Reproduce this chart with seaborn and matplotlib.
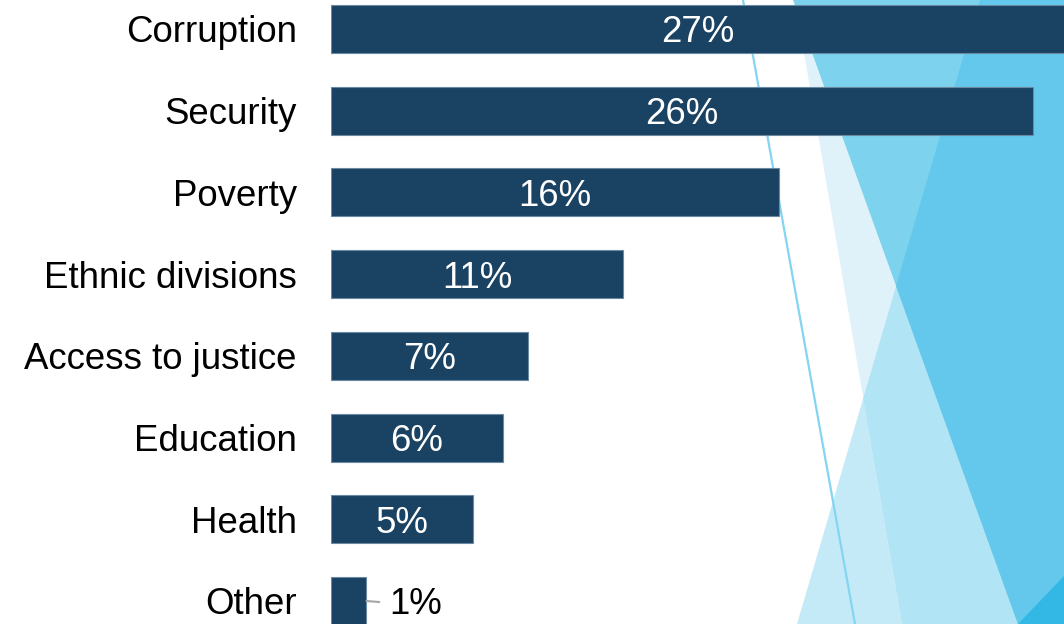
import matplotlib
matplotlib.use('Agg')
import matplotlib.pyplot as plt
import seaborn as sns
import pandas as pd
from matplotlib.patches import Polygon
from matplotlib.lines import Line2D

categories = ["Corruption", "Security", "Poverty", "Ethnic divisions",
              "Access to justice", "Education", "Health", "Other"]
values = [26.9, 25.7, 16.4, 10.7, 7.2, 6.3, 5.2, 1.3]
labels = ["27%", "26%", "16%", "11%", "7%", "6%", "5%", "1%"]

sns.set_theme(style='white')
plt.rcParams['font.family'] = ['Liberation Sans', 'DejaVu Sans']

W, H = 1064, 624
fig = plt.figure(figsize=(W / 100, H / 100), dpi=100)
fig.patch.set_facecolor('white')


def fpoly(pts, color):
    xy = [(x / W, 1 - y / H) for x, y in pts]
    fig.add_artist(Polygon(xy, closed=True, transform=fig.transFigure,
                           facecolor=color, edgecolor='none', zorder=-5))


# decorative background (slide theme)
fpoly([(795, 0), (1064, 0), (1064, 624), (902, 624)], '#dff2fa')
fpoly([(863, 399), (902, 624), (797, 624)], '#c5eaf7')
fpoly([(980, 0), (1064, 0), (1064, 624), (902, 624), (863, 399)], '#b1e4f5')
fpoly([(793, 0), (1064, 0), (1064, 624), (1018, 624)], '#7dd3ee')
fpoly([(980, 0), (1064, 0), (1064, 624), (1018, 624), (896, 286)], '#63c8ec')
fpoly([(1018, 624), (1064, 576), (1064, 624)], '#33b8e5')
fig.add_artist(Line2D([743 / W, 855 / W], [1, 0], transform=fig.transFigure,
                      color='#84d5f1', lw=1.6, zorder=-4))

ax = fig.add_axes([331 / W, 0, 1 - 331 / W, 1])
ax.patch.set_alpha(0)

df = pd.DataFrame({'category': categories, 'value': values})
sns.barplot(data=df, x='value', y='category', orient='h', color='#1a4262',
            saturation=1, width=0.588, edgecolor='#6a8aa3', linewidth=0.8,
            ax=ax)

FS = 26.4
for i, (v, lab) in enumerate(zip(values, labels)):
    if v > 3:
        ax.text(v / 2, i, lab, ha='center', va='center_baseline',
                color='white', fontsize=FS)
    else:
        ax.annotate(lab, xy=(v, i), xytext=(23, 0), textcoords='offset pixels',
                    ha='left', va='center_baseline', color='black', fontsize=FS,
                    arrowprops=dict(arrowstyle='-', color='#a6a6a6', lw=1.5,
                                    shrinkA=5, shrinkB=0))

spacing = (601 - 29) / 7
ax.set_ylim((624 - 29) / spacing, -29 / spacing)
ax.set_xlim(0, 733 / 27.3)
ax.set_xlabel('')
ax.set_ylabel('')
ax.set_xticks([])
for s in ax.spines.values():
    s.set_visible(False)
ax.tick_params(axis='y', length=0, pad=24.5, labelsize=FS, labelcolor='black')

fig.savefig('out.png', dpi=100, facecolor='white')
